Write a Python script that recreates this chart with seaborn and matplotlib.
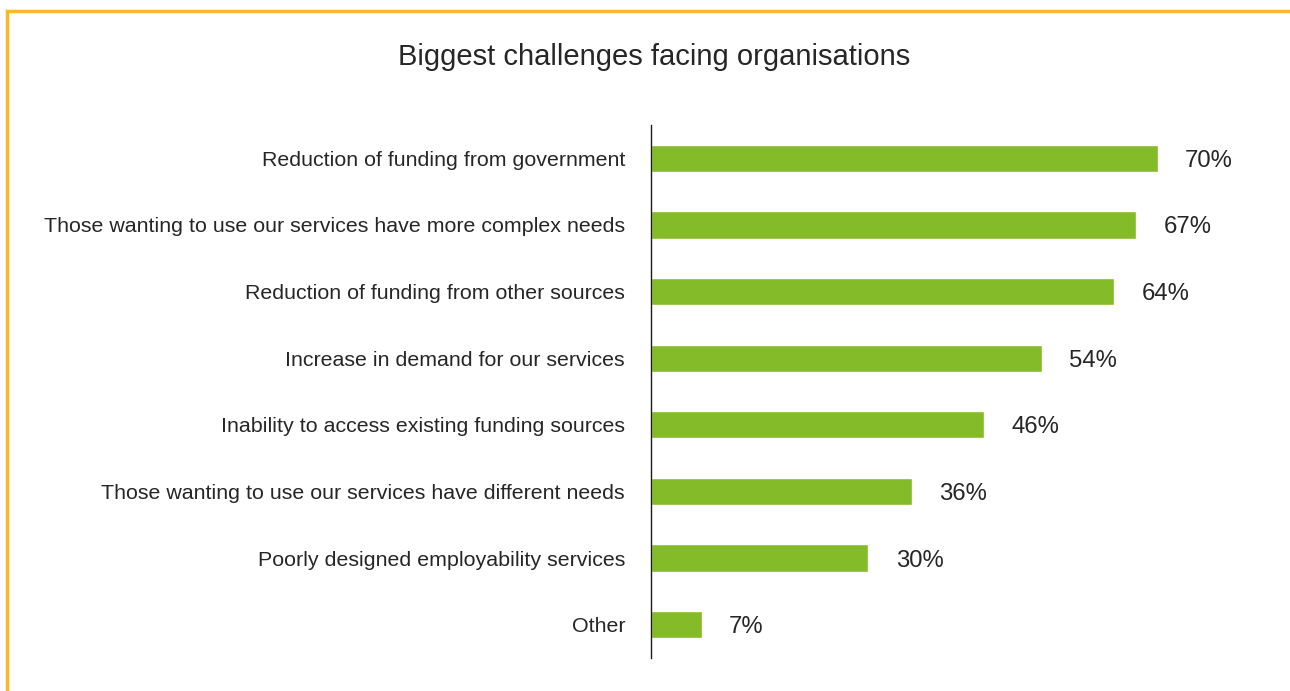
import matplotlib
matplotlib.use("Agg")
import matplotlib.pyplot as plt
import seaborn as sns
import pandas as pd
from matplotlib.patches import Rectangle

categories = [
    "Reduction of funding from government",
    "Those wanting to use our services have more complex needs",
    "Reduction of funding from other sources",
    "Increase in demand for our services",
    "Inability to access existing funding sources",
    "Those wanting to use our services have different needs",
    "Poorly designed employability services",
    "Other",
]
values = [70, 67, 64, 54, 46, 36, 30, 7]
title = "Biggest challenges facing organisations"

df = pd.DataFrame({"challenge": categories, "share": values})

sns.set_theme(style="white")
plt.rcParams["font.family"] = ["Liberation Sans", "DejaVu Sans"]
text_color = "#262626"
bar_color = "#84BB29"

fig = plt.figure(figsize=(12.9, 6.91), dpi=100)
ax = fig.add_axes([651 / 1290, 1 - 658 / 691, (1230 - 651) / 1290, (658 - 125) / 691])

sns.barplot(data=df, x="share", y="challenge", color=bar_color, width=0.41,
            saturation=1, ax=ax, orient="h")

ax.set_xlim(0, 80)
ax.set_ylim(7.5, -0.5)
ax.set_xlabel("")
ax.set_ylabel("")
ax.set_xticks([])
ax.tick_params(axis="y", length=0, pad=18.7, labelsize=15.4, labelcolor=text_color)
for lbl in ax.get_yticklabels():
    lbl.set_verticalalignment("center_baseline")
for side in ["top", "right", "bottom"]:
    ax.spines[side].set_visible(False)
ax.spines["left"].set_color("#1a1a1a")
ax.spines["left"].set_linewidth(1.0)

for i, v in enumerate(values):
    ax.text(v + 3.8, i, f"{v}%", va="center_baseline", ha="left", fontsize=17.2,
            color=text_color, clip_on=False)

fig.text(654 / 1290, 1 - 57 / 691, title, ha="center", va="center",
         fontsize=21, color=text_color)

# orange frame around the panel
fig.add_artist(Rectangle((7 / 1290, -0.05), 1.1, 1 - 11 / 691 + 0.05,
                         transform=fig.transFigure, fill=False,
                         edgecolor="#FBB829", linewidth=2.5, clip_on=False))

fig.savefig("out.png", dpi=100)
